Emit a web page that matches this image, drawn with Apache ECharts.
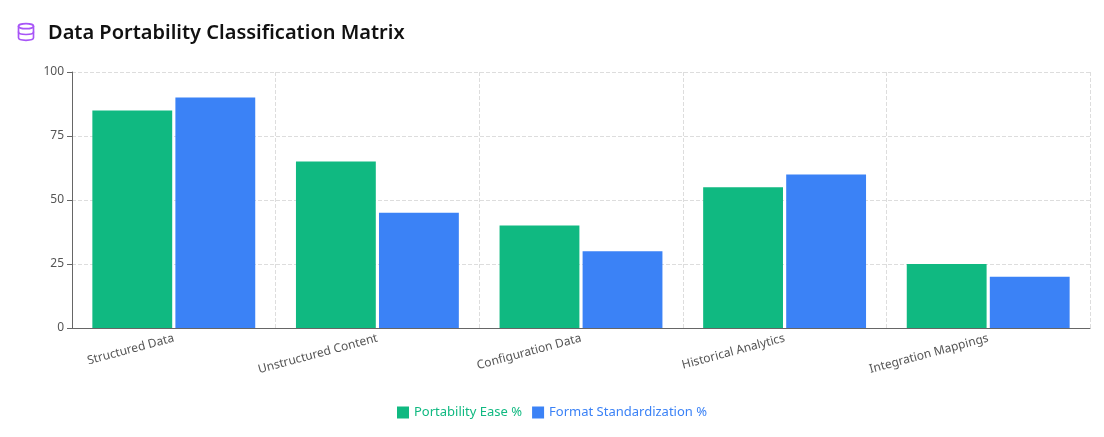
<!DOCTYPE html>
<html><head><meta charset="utf-8">
<script src="https://cdn.jsdelivr.net/npm/echarts@6/dist/echarts.min.js"></script>
<style>
body{margin:0;background:#fff;font-family:"Segoe UI","Noto Sans",sans-serif;}
#t{position:absolute;left:16px;top:18px;display:flex;align-items:center;font-size:20px;font-weight:600;color:#111;}
#t svg{margin-right:12px}
#c{position:absolute;left:0;top:0;width:1104px;height:437px;}
</style></head><body>
<div id="c"></div>
<div id="t"><svg width="20" height="20" viewBox="0 0 24 24" fill="none" stroke="#a855f7" stroke-width="2" stroke-linecap="round"><ellipse cx="12" cy="5" rx="9" ry="3"/><path d="M3 5v14c0 1.7 4 3 9 3s9-1.3 9-3V5"/><path d="M3 12c0 1.7 4 3 9 3s9-1.3 9-3"/></svg>Data Portability Classification Matrix</div>
<script>
const categories=["Structured Data","Unstructured Content","Configuration Data","Historical Analytics","Integration Mappings"];
const portability=[85,65,40,55,25];
const standardization=[90,45,30,60,20];
const chart=echarts.init(document.getElementById('c'));
chart.setOption({
 animation:false,
 textStyle:{fontFamily:'"Segoe UI","Noto Sans",sans-serif'},
 grid:{left:72,right:14,top:72,bottom:109},
 legend:{bottom:13,itemWidth:12,itemHeight:12,itemGap:10,icon:'rect',
  textStyle:{fontSize:13},data:[{name:'Portability Ease %',textStyle:{color:'#10b981'}},{name:'Format Standardization %',textStyle:{color:'#3b82f6'}}]},
 xAxis:{type:'category',data:categories,axisTick:{show:false},
  axisLine:{lineStyle:{color:'#666'}},
  axisLabel:{rotate:15,color:'#555',fontSize:12,interval:0,margin:10},
  splitLine:{show:true,lineStyle:{type:'dashed',color:'#ddd'}}},
 yAxis:{type:'value',min:0,max:100,interval:25,
  axisLine:{show:true,lineStyle:{color:'#666'}},axisTick:{show:true,lineStyle:{color:'#666'}},
  axisLabel:{color:'#555',fontSize:12},
  splitLine:{lineStyle:{type:'dashed',color:'#ddd'}}},
 series:[
  {name:'Portability Ease %',type:'bar',data:portability,itemStyle:{color:'#10b981'},barGap:'4%',barCategoryGap:'20%'},
  {name:'Format Standardization %',type:'bar',data:standardization,itemStyle:{color:'#3b82f6'}}
 ]
});
</script></body></html>
